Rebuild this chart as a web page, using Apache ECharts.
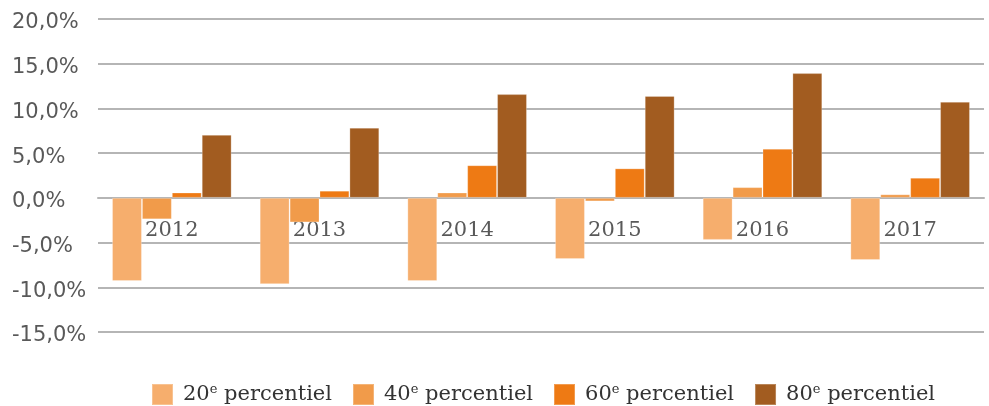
<!DOCTYPE html>
<html>
<head>
    <meta charset="utf-8">
    <title>Percentielen</title>
    <script src="https://cdn.jsdelivr.net/npm/echarts@6/dist/echarts.min.js"></script>
    <style>
        body { margin: 0; background: #fff; }
    </style>
</head>
<body>
    <div id="main" style="width: 989px;height:406px;"></div>
    <script type="text/javascript">
        var years = ['2012', '2013', '2014', '2015', '2016', '2017'];
        var percentiles = ['20', '40', '60', '80'];
        var p20 = [-9.3, -9.65, -9.3, -6.85, -4.7, -6.95];
        var p40 = [-2.4, -2.75, 0.6, -0.4, 1.2, 0.4];
        var p60 = [0.6, 0.8, 3.65, 3.3, 5.5, 2.25];
        var p80 = [7.05, 7.85, 11.6, 11.4, 13.95, 10.75];
        var colors = ['#F6AE6D', '#F19B4A', '#EE7A14', '#A25C20'];
        var yMin = -15, yMax = 20;

        var values = [p20, p40, p60, p80];
        var myChart = echarts.init(document.getElementById('main'));

        // hoogte van het plotgebied, nodig om de categorie-as op 0 te leggen
        var gridTop = 19, gridBottom = 74;
        var plotH = 406 - gridTop - gridBottom;
        var zeroOffset = plotH * (0 - yMin) / (yMax - yMin);

        var series = percentiles.map(function (p, i) {
            return {
                name: p + 'e percentiel',
                type: 'bar',
                data: values[i],
                barGap: '0%',
                barCategoryGap: '19%',
                itemStyle: {
                    color: colors[i],
                    borderColor: 'rgba(255,255,255,0.25)',
                    borderWidth: 1
                }
            };
        });

        var option = {
            animation: false,
            color: colors,
            grid: {
                left: 98,
                right: 5,
                top: gridTop,
                bottom: gridBottom
            },
            legend: {
                left: 146,
                top: 378,
                itemWidth: 21,
                itemHeight: 21,
                itemGap: 20,
                icon: 'rect',
                formatter: function (name) {
                    var num = name.split('e')[0];
                    return '{n|' + num + '}{s|e}{n| percentiel}';
                },
                textStyle: {
                    padding: [0, 0, 0, 5],
                    rich: {
                        n: {
                            fontFamily: 'DejaVu Serif',
                            fontSize: 21,
                            color: '#333333',
                            lineHeight: 22
                        },
                        s: {
                            fontFamily: 'DejaVu Serif',
                            fontSize: 13,
                            color: '#333333',
                            verticalAlign: 'top',
                            lineHeight: 12
                        }
                    }
                }
            },
            xAxis: {
                type: 'category',
                data: years,
                offset: -zeroOffset,
                axisTick: { show: false },
                axisLine: {
                    onZero: false,
                    lineStyle: { color: '#b5b5b5', width: 2 }
                },
                axisLabel: {
                    margin: 22,
                    fontFamily: 'DejaVu Serif',
                    fontSize: 21,
                    color: '#595959'
                }
            },
            yAxis: {
                type: 'value',
                min: yMin,
                max: yMax,
                interval: 5,
                axisLine: { show: false },
                axisTick: { show: false },
                splitLine: {
                    lineStyle: { color: '#b5b5b5', width: 2 }
                },
                axisLabel: {
                    align: 'left',
                    verticalAlign: 'top',
                    lineHeight: 8,
                    margin: 86,
                    fontFamily: 'DejaVu Sans',
                    fontSize: 21,
                    color: '#595959',
                    formatter: function (v) {
                        return v.toFixed(1).replace('.', ',') + '%';
                    }
                }
            },
            series: series
        };

        myChart.setOption(option);
    </script>
</body>
</html>
